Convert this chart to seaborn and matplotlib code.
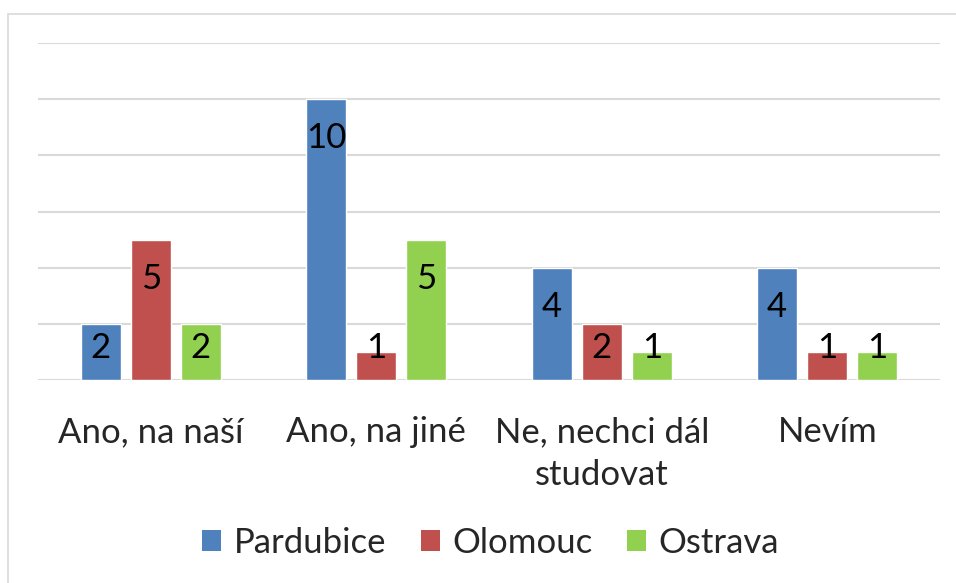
import matplotlib
matplotlib.use("Agg")
import matplotlib.pyplot as plt
from matplotlib.patches import Patch, Rectangle
import seaborn as sns
import pandas as pd

categories = ["Ano, na naší", "Ano, na jiné", "Ne, nechci dál\nstudovat", "Nevím"]
series = ["Pardubice", "Olomouc", "Ostrava"]
pardubice = [2, 10, 4, 4]
olomouc = [5, 1, 2, 1]
ostrava = [2, 5, 1, 1]
colors = ["#4F81BD", "#C0504D", "#92D050"]

rows = []
for name, vals in zip(series, [pardubice, olomouc, ostrava]):
    for cat, v in zip(categories, vals):
        rows.append({"cat": cat, "city": name, "value": v})
df = pd.DataFrame(rows)

sns.set_theme(style="white")
plt.rcParams["font.family"] = ["Lato", "DejaVu Sans"]
FS = 25

fig = plt.figure(figsize=(9.56, 5.83), dpi=100)
ax = fig.add_axes([38 / 956, 1 - 380 / 583, (940 - 38) / 956, (380 - 43) / 583])

sns.barplot(data=df, x="cat", y="value", hue="city", order=categories,
            hue_order=series, palette=colors, width=0.667, gap=0.2,
            saturation=1, ax=ax, legend=False, errorbar=None)

ax.set_ylim(0, 12)
ax.set_xlim(-0.5, len(categories) - 0.5)
ax.set_yticks(range(0, 13, 2))
ax.yaxis.grid(True, color="#D9D9D9", linewidth=1.5)
ax.set_axisbelow(True)
ax.set_yticklabels([])
ax.tick_params(axis="both", length=0)
ax.tick_params(axis="x", labelsize=FS, pad=26)
for lbl in ax.get_xticklabels():
    lbl.set_linespacing(1.4)
for s in ax.spines.values():
    s.set_visible(False)
ax.set_xlabel("")
ax.set_ylabel("")

# value labels inside the top of each bar
for container in ax.containers:
    for bar in container:
        v = bar.get_height()
        yc = max(v - 1.4, 1.15)
        ax.text(bar.get_x() + bar.get_width() / 2, yc, f"{int(v)}",
                ha="center", va="center", fontsize=FS, color="black")

# chart area border
fig.patches.append(Rectangle((8 / 956, -0.05), 1.0, 1 - 14 / 583 + 0.05,
                             transform=fig.transFigure, fill=False,
                             edgecolor="#D9D9D9", linewidth=1.2))

handles = [Patch(facecolor=c, edgecolor="none") for c in colors]
fig.legend(handles, series, loc="center", bbox_to_anchor=(0.513, 1 - 543 / 583),
           ncol=3, frameon=False, fontsize=FS, handlelength=0.55,
           handleheight=0.55, handletextpad=0.35, columnspacing=1.0)

fig.savefig("out.png", dpi=100, facecolor="white")
